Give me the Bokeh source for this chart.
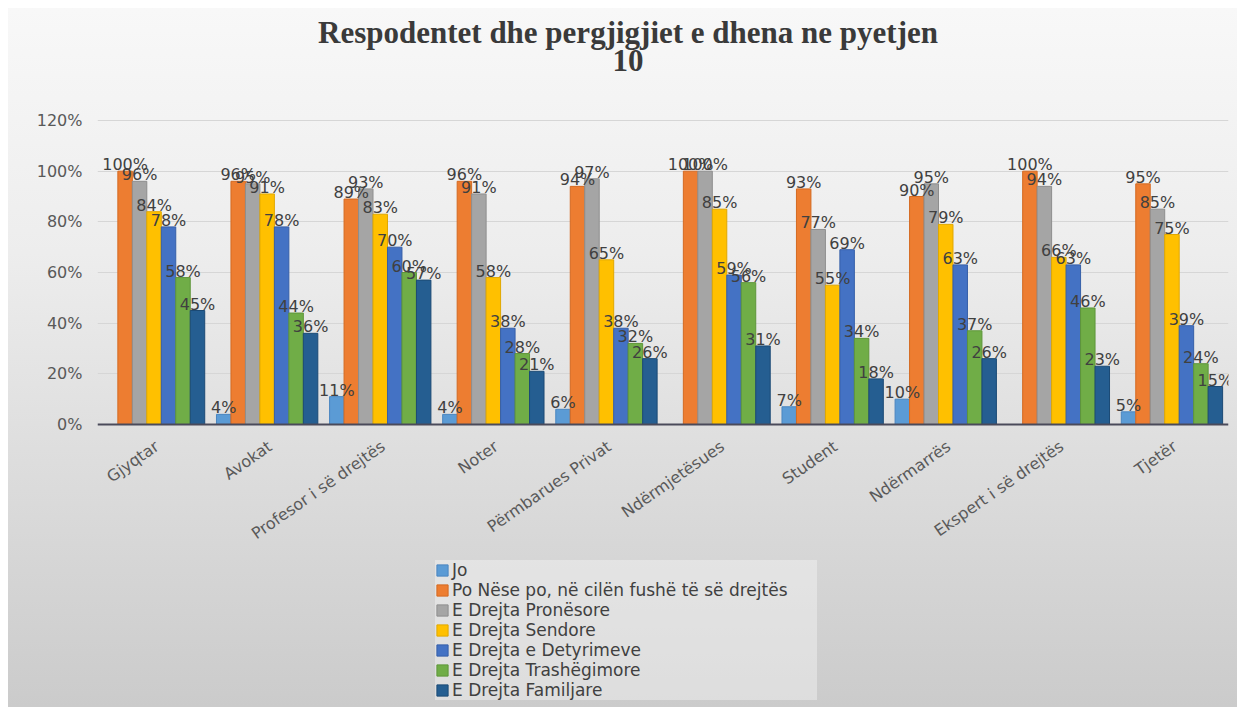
import math
from bokeh.plotting import figure
from bokeh.models import (ColumnDataSource, FactorRange, Range1d, FixedTicker,
                          PrintfTickFormatter, Legend, LegendItem, Label, Span)
from bokeh.transform import dodge
from bokeh.core.properties import value
from bokeh.embed import file_html
from bokeh.resources import INLINE

categories = ["Gjyqtar", "Avokat", "Profesor i së drejtës", "Noter", "Përmbarues Privat",
              "Ndërmjetësues", "Student", "Ndërmarrës", "Ekspert i së drejtës", "Tjetër"]
series_names = ["Jo", "Po Nëse po, në cilën fushë të së drejtës", "E Drejta Pronësore",
                "E Drejta Sendore", "E Drejta e Detyrimeve", "E Drejta Trashëgimore",
                "E Drejta Familjare"]
jo = [0, 4, 11, 4, 6, 0, 7, 10, 0, 5]
po = [100, 96, 89, 96, 94, 100, 93, 90, 100, 95]
pronesore = [96, 95, 93, 91, 97, 100, 77, 95, 94, 85]
sendore = [84, 91, 83, 58, 65, 85, 55, 79, 66, 75]
detyrimeve = [78, 78, 70, 38, 38, 59, 69, 63, 63, 39]
trashegimore = [58, 44, 60, 28, 32, 56, 34, 37, 46, 24]
familjare = [45, 36, 57, 21, 26, 31, 18, 26, 23, 15]
y_ticks = [0, 20, 40, 60, 80, 100, 120]
title_line1 = "Respodentet dhe pergjigjiet e dhena ne pyetjen"
title_line2 = "10"

series_values = [jo, po, pronesore, sendore, detyrimeve, trashegimore, familjare]
fill_colors = ["#5B9BD5", "#ED7D31", "#A5A5A5", "#FFC000", "#4472C4", "#70AD47", "#255E91"]
line_colors = ["#4A86C0", "#D46A22", "#8E8E8E", "#E0A800", "#365FA8", "#5E963A", "#1B4A75"]

FONT = "DejaVu Sans"
TEXT_COL = "#404040"

# page layout (pixels): the frame covers the whole figure height, the value
# scale maps 0% to y=424 and 120% to y=120; title, category labels and the
# legend are drawn inside the frame.
PAGE_TOP, PAGE_BOTTOM, ZERO_PX, TOP_TICK_PX = 8, 707, 424, 120
y_max_tick = 120
px_per_unit = (ZERO_PX - TOP_TICK_PX) / y_max_tick
y_top = y_max_tick + (TOP_TICK_PX - PAGE_TOP) / px_per_unit
y_bottom = -(PAGE_BOTTOM - ZERO_PX) / px_per_unit

p = figure(x_range=FactorRange(*categories, range_padding=0), y_range=Range1d(y_bottom, y_top),
           width=1229, height=699, output_backend="svg", toolbar_location=None,
           x_axis_location=None, title_location=None,
           min_border_left=89, min_border_right=9, min_border_top=0, min_border_bottom=0)

p.styles = {"background": "linear-gradient(to bottom, #f8f8f8 0%, #ededed 35%, #dddddd 65%, #cbcbcb 100%)",
            "margin-left": "8px", "margin-top": "8px"}
p.background_fill_alpha = 0
p.border_fill_alpha = 0
p.outline_line_color = None

# title (two centred lines)
title_x = (627.5 - 97) / 113.1          # synthetic category coordinate of the page centre of the title
line1_y = (ZERO_PX - 32) / px_per_unit
line2_y = (ZERO_PX - 60) / px_per_unit
for txt, ty in ((title_line1, line1_y), (title_line2, line2_y)):
    p.add_layout(Label(x=title_x, y=ty, text=txt, text_align="center",
                       text_baseline="alphabetic", text_font="Liberation Serif",
                       text_font_size="31px", text_font_style="bold", text_color="#3a3a3a"))

bw = 0.128
items = []
for i, (name, vals) in enumerate(zip(series_names, series_values)):
    off = (i - 3) * bw
    src = ColumnDataSource(dict(cat=categories, val=vals))
    r = p.vbar(x=dodge("cat", off, range=p.x_range), top="val", width=bw, bottom=0,
               source=src, fill_color=fill_colors[i], line_color=line_colors[i], line_width=1)
    items.append(LegendItem(label=name, renderers=[r]))

for i, (name, vals) in enumerate(zip(series_names, series_values)):
    off = (i - 3) * bw
    cats = [c for c, v in zip(categories, vals) if v > 0]
    vv = [v for v in vals if v > 0]
    src = ColumnDataSource(dict(cat=cats, val=vv, lab=[f"{v}%" for v in vv]))
    p.text(x=dodge("cat", off, range=p.x_range), y="val", text="lab", source=src,
           text_align="center", text_baseline="bottom", y_offset=3,
           text_font=value(FONT), text_font_size="16px", text_color=TEXT_COL)

# category axis: base line + rotated category labels
p.add_layout(Span(location=0, dimension="width", line_color="#4a4a5a", line_width=2))
cat_src = ColumnDataSource(dict(cat=categories, base=[0] * len(categories)))
p.text(x="cat", y="base", text="cat", source=cat_src, angle=0.61,
       text_align="right", text_baseline="middle", x_offset=3, y_offset=20,
       text_font=value(FONT), text_font_size="16px", text_color="#595959")

# value axis
p.yaxis.ticker = FixedTicker(ticks=y_ticks)
p.yaxis.formatter = PrintfTickFormatter(format="%d%%")
p.yaxis.axis_line_color = None
p.yaxis.major_tick_line_color = None
p.yaxis.minor_tick_line_color = None
p.yaxis.major_tick_out = 0
p.yaxis.major_tick_in = 0
p.yaxis.major_label_standoff = 15
p.yaxis.major_label_text_font = FONT
p.yaxis.major_label_text_font_size = "16px"
p.yaxis.major_label_text_color = "#595959"

p.xgrid.visible = False
p.ygrid.grid_line_color = "#d6d6d6"
p.ygrid.grid_line_width = 1

legend = Legend(items=items, orientation="vertical", location=(338, 7),
                label_text_font=FONT, label_text_font_size="17px", label_text_color=TEXT_COL,
                glyph_width=14, glyph_height=14, label_height=14, label_width=365, spacing=0,
                label_standoff=3, padding=3, margin=0,
                background_fill_color="#ffffff", background_fill_alpha=0.35,
                border_line_color=None)
p.add_layout(legend, "center")

open("out.html", "w").write(file_html(p, INLINE))
